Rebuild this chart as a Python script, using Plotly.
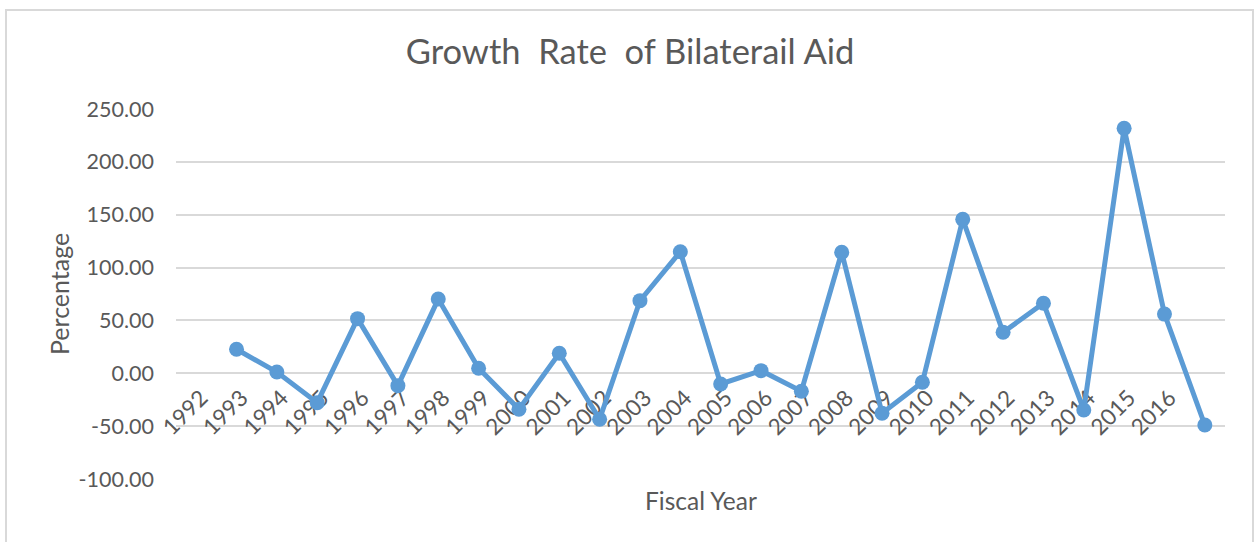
import plotly.graph_objects as go

# Fiscal-year category labels (the final slot carries no label)
fiscal_years = ["1992", "1993", "1994", "1995", "1996", "1997", "1998", "1999",
                "2000", "2001", "2002", "2003", "2004", "2005", "2006", "2007",
                "2008", "2009", "2010", "2011", "2012", "2013", "2014", "2015",
                "2016", ""]

# Growth rate of bilateral aid (%), one value per category slot
growth_rate = [None, 22.7, 1.2, -27.8, 51.7, -11.7, 70.2, 4.7, -34.0, 18.9,
               -43.5, 68.7, 115.0, -10.1, 2.5, -17.0, 114.4, -37.8, -8.5,
               145.6, 38.8, 66.2, -34.7, 231.7, 56.0, -48.9]

y_ticks = [-100, -50, 0, 50, 100, 150, 200, 250]
y_min, y_max = -100, 250

slots = list(range(len(fiscal_years)))
font_family = "Lato, 'Open Sans', sans-serif"
text_color = "#595959"
grid_color = "#d9d9d9"
line_color = "#5B9BD5"

fig = go.Figure()
fig.add_trace(go.Scatter(
    x=slots,
    y=growth_rate,
    mode="lines+markers",
    line=dict(color=line_color, width=5),
    marker=dict(color=line_color, size=15),
    connectgaps=False,
    showlegend=False,
))

fig.update_layout(
    width=1260,
    height=542,
    margin=dict(l=176, r=35, t=109, b=63),
    paper_bgcolor="white",
    plot_bgcolor="white",
    font=dict(family=font_family, color=text_color),
    title=dict(
        text="Growth\u00a0 Rate\u00a0 of Bilaterail Aid",
        x=0.5, xanchor="center", xref="container",
        y=1 - 52 / 542, yanchor="middle", yref="container",
        font=dict(size=34.5, color=text_color, family=font_family),
    ),
    xaxis=dict(
        range=[-0.5, len(fiscal_years) - 0.5],
        tickmode="array",
        tickvals=slots,
        ticktext=fiscal_years,
        tickangle=-45,
        tickfont=dict(size=22.5, color=text_color),
        showgrid=False,
        zeroline=False,
        showline=False,
        ticks="",
        ticklabelstandoff=6,
        ticklabelshift=5,
        layer="below traces",
        anchor="free",
        position=(0 - y_min) / (y_max - y_min),
    ),
    yaxis=dict(
        range=[y_min, y_max],
        tickmode="array",
        tickvals=y_ticks,
        ticktext=[f"{v:.2f}" for v in y_ticks],
        tickfont=dict(size=21.5, color=text_color),
        showgrid=True,
        gridcolor=grid_color,
        gridwidth=1.5,
        zeroline=False,
        showline=False,
        ticks="",
        ticklabelstandoff=22,
        layer="below traces",
        anchor="free",
        position=0,
    ),
    annotations=[
        dict(text="Percentage", textangle=-90,
             x=(59 - 176) / 1049, y=0.5, xref="paper", yref="paper",
             xanchor="center", yanchor="middle", showarrow=False,
             font=dict(size=25, color=text_color)),
        dict(text="Fiscal Year",
             x=0.5, y=(479 - 500) / 370, xref="paper", yref="paper",
             xanchor="center", yanchor="middle", showarrow=False,
             font=dict(size=24.5, color=text_color)),
    ],
    shapes=[
        # light chart-area frame
        dict(type="rect", xref="paper", yref="paper",
             x0=(6 - 176) / 1049, x1=(1253 - 176) / 1049,
             y0=(479 - 560) / 370, y1=(479 - 10) / 370,
             line=dict(color=grid_color, width=2), fillcolor="rgba(0,0,0,0)",
             layer="below"),
    ],
)

fig.write_html("out.html")
